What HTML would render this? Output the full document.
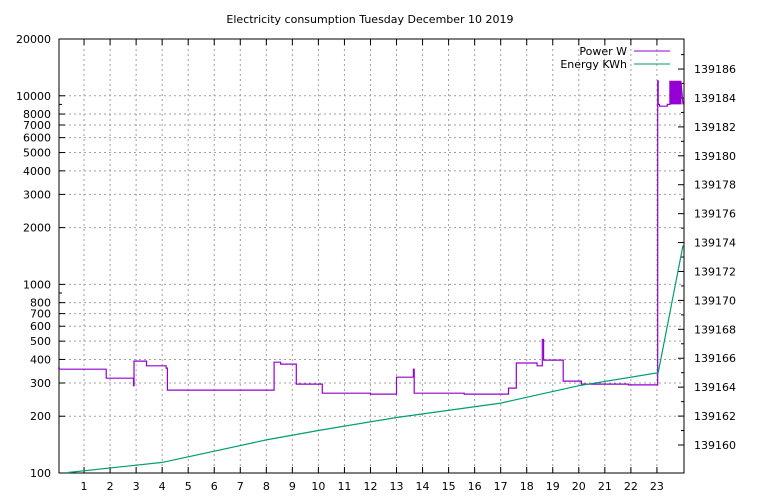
<!DOCTYPE html>
<html><head><meta charset="utf-8"><style>
body{margin:0;background:#fff}
svg{display:block;font-family:"DejaVu Sans","Liberation Sans",sans-serif;font-size:11px}
</style></head><body>
<svg id="c" width="768" height="500" viewBox="0 0 768 500">
<text x="370" y="23" text-anchor="middle">Electricity consumption Tuesday December 10 2019</text>
<g id="grid"></g><g id="axes"></g><g id="series"></g>
<g>
<text x="627" y="55" text-anchor="end">Power W</text>
<line x1="634" y1="51" x2="670" y2="51" stroke="#9400d3" stroke-width="1"/>
<text x="627" y="68" text-anchor="end">Energy KWh</text>
<line x1="634" y1="64" x2="670" y2="64" stroke="#009e73" stroke-width="1"/>
</g>
</svg>
<script>
const xTicks=[1,2,3,4,5,6,7,8,9,10,11,12,13,14,15,16,17,18,19,20,21,22,23];
const yTicks=[100,200,300,400,500,600,700,800,1000,2000,3000,4000,5000,6000,7000,8000,10000,20000];
const yMinor=[900,9000];
const y2Ticks=[139160,139162,139164,139166,139168,139170,139172,139174,139176,139178,139180,139182,139184,139186];
const powerT=[0,0.05,0.05,1.85,1.85,2.9,2.9,2.92,2.92,3.4,3.4,4.15,4.15,4.2,4.2,8.3,8.3,8.55,8.55,9.15,9.15,10.15,10.15,12,12,13,13,13.65,13.65,13.68,13.68,15.6,15.6,17.3,17.3,17.6,17.6,18.4,18.4,18.6,18.6,18.65,18.65,19.4,19.4,20.1,20.1,21.9,21.9,23.03,23.03,23.05,23.05,23.1,23.1,23.4,23.4,23.5,23.5,23.52,23.54,23.56,23.58,23.6,23.62,23.64,23.66,23.68,23.7,23.72,23.74,23.76,23.78,23.8,23.82,23.84,23.86,23.88,23.88,23.92,23.92,24];
const powerV=[360,360,355,355,318,318,290,290,392,392,370,370,360,360,275,275,387,387,378,378,296,296,265,265,262,262,322,322,355,355,265,265,262,262,282,282,383,383,370,370,510,510,397,397,307,307,296,296,293,293,12000,12000,9000,9000,8800,8800,9000,9000,12000,9000,12000,9000,12000,9000,12000,9000,12000,9000,12000,9000,12000,9000,12000,9000,12000,9000,12000,9000,12000,9000,12000,9000];
const energyT=[0.38,4,8,10,13,17,17.5,20,23.05,24];
const energyV=[139158.1,139158.8,139160.35,139161,139161.9,139162.9,139163.1,139164.1,139165,139173.8];
const L=59,R=684,T=39,B=473,NS="http://www.w3.org/2000/svg";
const X=h=>58+h*26.04;
const Y=v=>B-(Math.log10(v)-2)/Math.log10(200)*(B-T);
const Y2=v=>445-(v-139160)*14.46;
function el(t,a,p){const e=document.createElementNS(NS,t);for(const k in a)e.setAttribute(k,a[k]);p.appendChild(e);return e;}
const grid=document.getElementById('grid'),axes=document.getElementById('axes'),ser=document.getElementById('series');
xTicks.forEach(h=>{const x=X(h);
const g=el('line',{x1:x,y1:T,x2:x,y2:B,stroke:'#a0a0a0','stroke-dasharray':'2,3'},grid);

el('line',{x1:x,y1:B,x2:x,y2:B-6,stroke:'#000'},axes);el('line',{x1:x,y1:T,x2:x,y2:T+6,stroke:'#000'},axes);
const t=el('text',{x:x,y:B+17,'text-anchor':'middle'},axes);t.textContent=h;
});
yTicks.forEach(v=>{const y=Y(v);
if(v>100&&v<20000){const g=el('line',{x1:L,y1:y,x2:R,y2:y,stroke:'#a0a0a0','stroke-dasharray':'2,3'},grid);
}
el('line',{x1:L,y1:y,x2:L+6,y2:y,stroke:'#000'},axes);
const t=el('text',{x:L-8,y:y+4,'text-anchor':'end'},axes);t.textContent=v;
});
yMinor.forEach(v=>{const y=Y(v);el('line',{x1:L,y1:y,x2:L+3,y2:y,stroke:'#000'},axes);});
y2Ticks.forEach(v=>{const y=Y2(v);
el('line',{x1:R,y1:y,x2:R-6,y2:y,stroke:'#000'},axes);
const ym=Y2(v+1);if(ym>T)el('line',{x1:R,y1:ym,x2:R-3,y2:ym,stroke:'#000'},axes);
const t=el('text',{x:R+10,y:y+4},axes);t.textContent=v;
});
const fr=el('rect',{x:L,y:T,width:R-L,height:B-T,fill:'none',stroke:'#000'},axes);

const pp=el('polyline',{points:powerT.map((t,i)=>X(t).toFixed(1)+','+Y(powerV[i]).toFixed(1)).join(' '),fill:'none',stroke:'#9400d3','stroke-width':1.2},ser);

const ep=el('polyline',{points:energyT.map((t,i)=>X(t).toFixed(1)+','+Y2(energyV[i]).toFixed(1)).join(' '),fill:'none',stroke:'#009e73','stroke-width':1.2},ser);

</script>
</body></html>
